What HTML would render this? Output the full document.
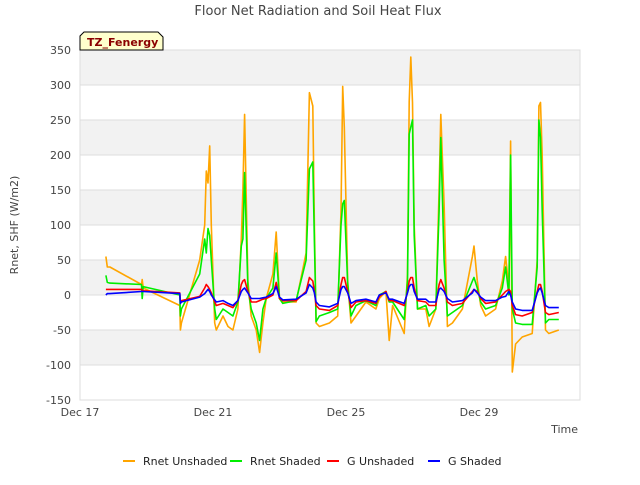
<!DOCTYPE html>
<html><head><meta charset="utf-8"><style>
body{margin:0;background:#fff;font-family:"Liberation Sans","DejaVu Sans",sans-serif;}
svg text{font-family:"DejaVu Sans","Liberation Sans",sans-serif;}
</style></head><body>
<svg id="chart" width="640" height="480" xmlns="http://www.w3.org/2000/svg">
<rect width="640" height="480" fill="#fff"/>
<g id="bands"></g><g id="grid"></g>
<rect x="80" y="50" width="500" height="350" fill="none" stroke="#ddd"/>
<g id="series"></g><g id="axes"></g>
<text x="318" y="15" text-anchor="middle" font-size="13" fill="#444">Floor Net Radiation and Soil Heat Flux</text>
<text transform="translate(18,225) rotate(-90)" text-anchor="middle" font-size="11" fill="#444">Rnet, SHF (W/m2)</text>
<text x="578" y="433" text-anchor="end" font-size="11" fill="#444">Time</text>
<g>
<path d="M80,50 L80,36 L84,32 L158,32 L163,37 L163,50 Z" fill="#ffffcc" stroke="#000"/>
<text x="87" y="46" font-size="11" font-weight="bold" fill="#8b0000">TZ_Fenergy</text>
</g>
<g id="legend"></g>
</svg>
<script>
const t=[0.78,0.82,0.9,1.85,1.87,1.9,3.0,3.02,3.05,3.6,3.75,3.8,3.85,3.9,3.95,4.05,4.1,4.3,4.45,4.6,4.75,4.85,4.9,4.95,5.05,5.15,5.3,5.4,5.5,5.6,5.8,5.9,6.0,6.1,6.5,6.8,6.9,7.0,7.05,7.1,7.2,7.5,7.75,7.85,7.9,7.95,8.05,8.15,8.3,8.6,8.9,9.0,9.2,9.3,9.4,9.75,9.85,9.9,9.95,10.0,10.05,10.15,10.4,10.5,10.7,10.8,10.85,10.95,11.05,11.2,11.5,11.8,11.85,11.95,12.05,12.2,12.5,12.7,12.8,12.9,12.95,13.0,13.1,13.3,13.6,13.75,13.8,13.85,13.9,14.0,14.1,14.4];
const rnetUnshaded=[55,40,40,15,22,10,-15,-50,-40,50,100,177,160,213,100,-40,-50,-30,-45,-50,-20,80,150,258,20,-30,-50,-82,-40,-5,30,90,-5,-10,-10,60,289,270,100,-40,-45,-40,-30,120,298,240,20,-40,-30,-10,-20,-5,5,-65,-15,-55,30,276,340,275,100,-20,-20,-45,-20,150,258,130,-45,-40,-20,55,70,20,-15,-30,-20,20,55,10,220,-110,-70,-60,-55,50,270,275,200,-50,-55,-50];
const rnetShaded=[28,18,17,15,-5,12,0,-30,-20,30,80,60,95,85,50,-20,-35,-20,-25,-30,-10,70,80,175,10,-20,-40,-65,-20,-5,10,60,-5,-12,-8,50,180,190,77,-38,-30,-25,-20,100,130,135,15,-30,-15,-8,-15,0,5,-10,-10,-35,20,230,240,250,85,-20,-15,-30,-20,120,225,50,-30,-25,-15,20,25,10,-10,-20,-15,10,40,0,200,-20,-40,-42,-42,40,250,225,120,-40,-35,-35];
const gUnshaded=[8,8,8,8,7,6,3,-10,-8,-2,10,15,12,8,3,-10,-15,-12,-15,-18,-8,15,20,22,5,-10,-10,-8,-6,-5,0,18,-5,-8,-8,5,25,20,5,-15,-20,-22,-15,15,25,25,5,-18,-10,-8,-12,-2,5,-8,-8,-15,5,20,25,25,10,-8,-10,-15,-15,15,22,10,-10,-15,-12,5,8,5,-5,-12,-10,0,5,8,5,-15,-28,-30,-25,5,15,15,5,-25,-28,-25];
const gShaded=[0,2,2,5,5,5,2,-12,-10,-3,2,5,8,5,0,-7,-10,-8,-12,-15,-8,5,8,10,3,-5,-5,-5,-4,-3,2,12,-3,-7,-6,3,15,10,3,-10,-15,-17,-12,8,12,12,3,-12,-8,-6,-10,0,3,-6,-6,-12,3,12,15,15,5,-6,-6,-10,-10,8,10,5,-5,-10,-8,3,8,3,-3,-8,-8,-3,-2,5,0,-10,-20,-22,-22,3,8,10,3,-15,-18,-18];
const yTicks=[350,300,250,200,150,100,50,0,-50,-100,-150];
const xTickDays=[0,4,8,12];
const xTickLabels=["Dec 17","Dec 21","Dec 25","Dec 29"];
const seriesNames=["Rnet Unshaded","Rnet Shaded","G Unshaded","G Shaded"];
const seriesColors=["#FFA500","#00EE00","#FF0000","#0000FF"];
const seriesData=[rnetUnshaded,rnetShaded,gUnshaded,gShaded];

const NS="http://www.w3.org/2000/svg";
const X=d=>80+d*33.25;
const Y=v=>50+(350-v)*0.7;
function mk(tag,attrs,parent){const e=document.createElementNS(NS,tag);for(const k in attrs)e.setAttribute(k,attrs[k]);parent.appendChild(e);return e;}
const bands=document.getElementById('bands'),grid=document.getElementById('grid'),axes=document.getElementById('axes'),ser=document.getElementById('series'),leg=document.getElementById('legend');
for(let i=0;i<yTicks.length-1;i++){
  if(i%2===0){const r=mk('rect',{x:80,y:Y(yTicks[i]),width:500,height:Y(yTicks[i+1])-Y(yTicks[i]),fill:'#f2f2f2'},bands);
  
  }
}
yTicks.forEach(v=>{
  const l=mk('line',{x1:80,x2:580,y1:Y(v),y2:Y(v),stroke:'#ddd'},grid);
  
  
  const tx=mk('text',{x:71,y:Y(v)+4,'text-anchor':'end','font-size':'11',fill:'#444'},axes);
  tx.textContent=v;
  
  
});
xTickDays.forEach((d,i)=>{
  const tx=mk('text',{x:X(d),y:416,'text-anchor':'middle','font-size':'11',fill:'#444'},axes);
  tx.textContent=xTickLabels[i];
  
  
});
seriesData.forEach((arr,si)=>{
  const pts=t.map((d,i)=>X(d).toFixed(1)+','+Y(arr[i]).toFixed(1)).join(' ');
  const p=mk('polyline',{points:pts,fill:'none',stroke:seriesColors[si],'stroke-width':'1.6','stroke-linejoin':'round'},ser);
  
  
});
const legX=[123,230,327,428];
seriesNames.forEach((n,i)=>{
  const g=mk('g',{},leg);
  
  
  mk('line',{x1:legX[i],x2:legX[i]+12,y1:461,y2:461,stroke:seriesColors[i],'stroke-width':'2'},g);
  const tx=mk('text',{x:legX[i]+20,y:465,'font-size':'11',fill:'#222'},g);
  tx.textContent=n;
});
</script>
</body></html>
